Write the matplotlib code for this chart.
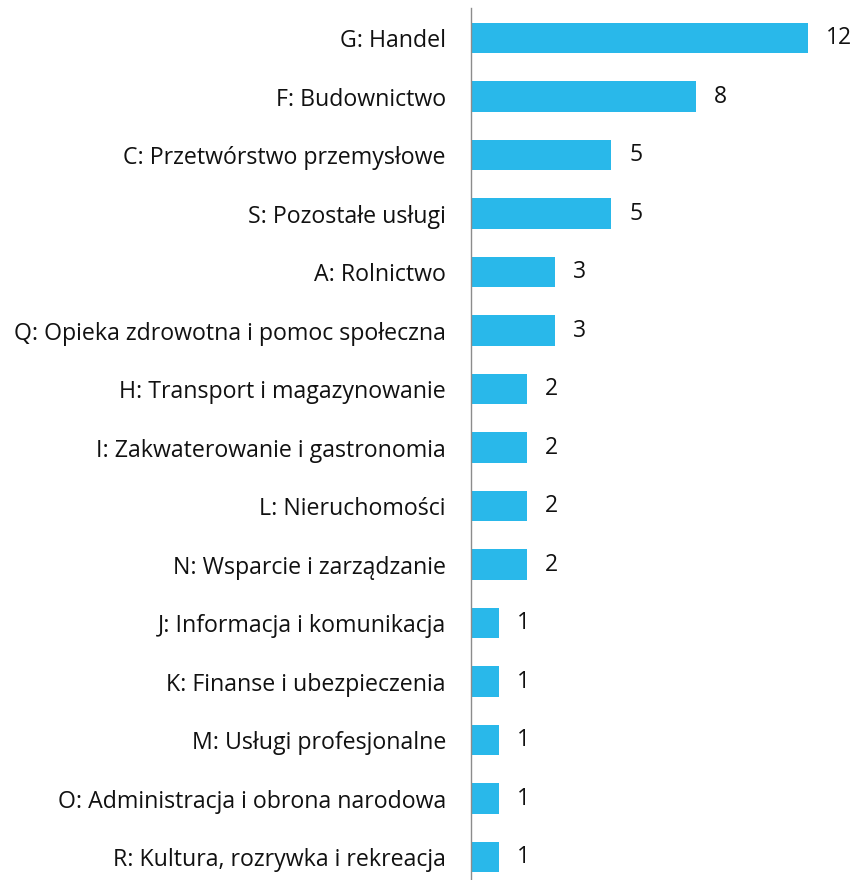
import matplotlib.pyplot as plt

sekcje = ["G: Handel", "F: Budownictwo", "C: Przetwórstwo przemysłowe", "S: Pozostałe usługi",
          "A: Rolnictwo", "Q: Opieka zdrowotna i pomoc społeczna", "H: Transport i magazynowanie",
          "I: Zakwaterowanie i gastronomia", "L: Nieruchomości", "N: Wsparcie i zarządzanie",
          "J: Informacja i komunikacja", "K: Finanse i ubezpieczenia", "M: Usługi profesjonalne",
          "O: Administracja i obrona narodowa", "R: Kultura, rozrywka i rekreacja"]
liczby = [12, 8, 5, 5, 3, 3, 2, 2, 2, 2, 1, 1, 1, 1, 1]

plt.rcParams['font.family'] = ['Open Sans', 'DejaVu Sans']

fig = plt.figure(figsize=(8.54, 8.8), dpi=100)
ax = fig.add_axes([471 / 854, 0, 365 / 854, 1 - 8 / 880])

pozycje = list(range(len(sekcje)))
slupki = ax.barh(pozycje, liczby, height=0.52, color="#29B8EA")
ax.bar_label(slupki, labels=[str(v) for v in liczby], padding=13, fontsize=16.5, color="#111111")

ax.set_yticks(pozycje)
ax.set_yticklabels(sekcje, fontsize=16.7, color="#111111")
ax.set_ylim(len(sekcje) - 1 + 0.39, -0.513)
ax.set_xlim(0, 13)
ax.set_xticks([])
ax.tick_params(axis="y", length=0, pad=18)

for s in ["top", "right", "bottom"]:
    ax.spines[s].set_visible(False)
ax.spines["left"].set_color("#8c8c8c")
ax.spines["left"].set_linewidth(1)

fig.savefig("out.png", dpi=100)
